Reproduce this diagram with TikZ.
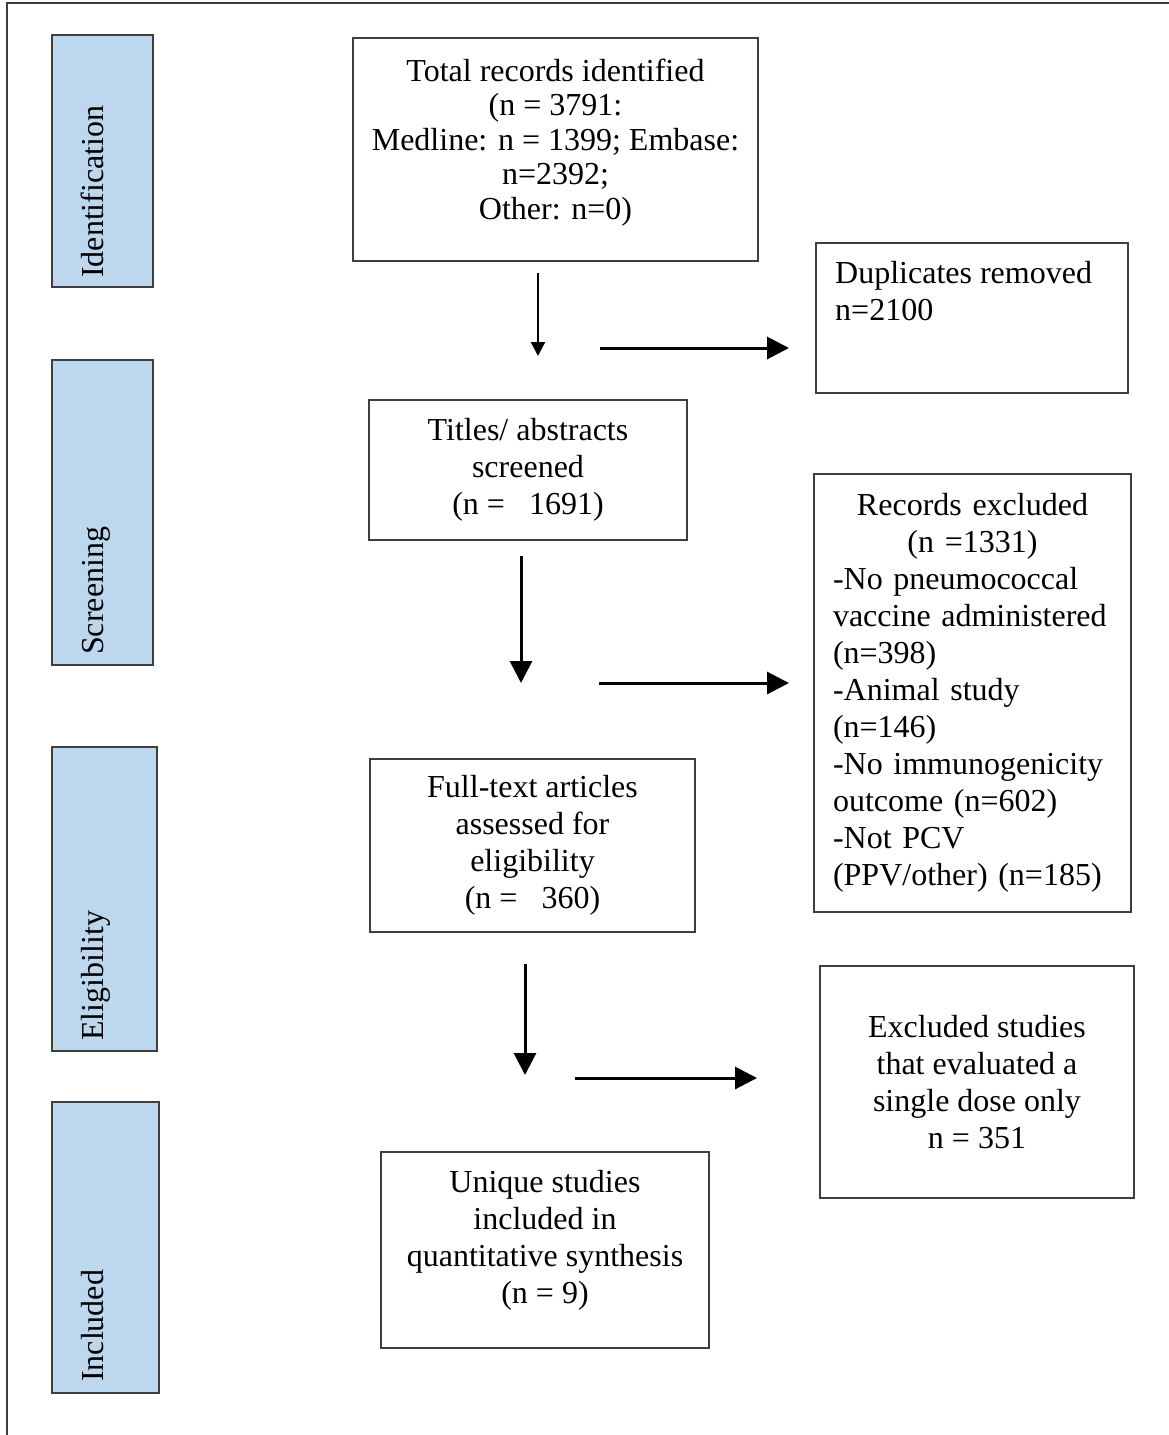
\documentclass[tikz,border=0pt]{standalone}
\usepackage{fontspec}
\setmainfont{Liberation Serif}
\usetikzlibrary{arrows.meta, positioning}
\definecolor{sideblue}{HTML}{BDD7EE}
\definecolor{edgegrey}{HTML}{3F3F3F}
\tikzset{
  every picture/.style={font=\fontsize{32}{37}\selectfont},
  flowbox/.style={draw=edgegrey, line width=1.5pt, align=center, inner sep=0pt},
  phase/.style={draw=edgegrey, fill=sideblue, line width=1.5pt, inner sep=0pt},
  phasetext/.style={rotate=90, anchor=base west, inner sep=0pt},
  arrow/.style={-{Triangle[length=22pt, width=22pt]}, line width=3pt},
  thinarrow/.style={-{Triangle[length=14pt, width=14pt]}, line width=2.2pt},
}

\begin{document}
\begin{tikzpicture}[x=1pt, y=-1pt]
  \useasboundingbox (0,0) rectangle (1168,1435);
  \draw[edgegrey, line width=2pt] (1190,3) -- (7,3) -- (7,1450);

  % phases on the left
  \node[phase, minimum width=101pt, minimum height=252pt] (ident) at (102.5,161) {};
  \node[phase, minimum width=101pt, minimum height=305pt] (screen) at (102.5,512.5) {};
  \node[phase, minimum width=105pt, minimum height=304pt] (elig) at (104.5,899) {};
  \node[phase, minimum width=107pt, minimum height=291pt] (incl) at (105.5,1247.5) {};
  \node[phasetext] (identtxt) at (103,278) {Identification};
  \node[phasetext] (screentxt) at (103,655) {Screening};
  \node[phasetext] (eligtxt) at (103,1041) {Eligibility};
  \node[phasetext] (incltxt) at (103,1382) {Included};

  % main column
  \node[flowbox, minimum width=405pt, minimum height=223pt, text depth=21pt, font=\fontsize{32}{34.5}\selectfont] (total) at (555.5,149.5)
    {Total records identified\\(n = 3791:\\Medline: n = 1399; Embase:\\n=2392;\\Other: n=0)};
  \node[flowbox, minimum width=318pt, minimum height=140pt] (titles) at (528,470)
    {Titles/ abstracts\\screened\\(n =~~~1691)};
  \node[flowbox, minimum width=325pt, minimum height=173pt] (fulltext) at (532.5,845.5)
    {Full-text articles\\assessed for\\eligibility\\(n =~~~360)};
  \node[flowbox, minimum width=328pt, minimum height=196pt, text depth=27pt] (unique) at (545,1250)
    {Unique studies\\included in\\quantitative synthesis\\(n = 9)};

  % exclusions on the right
  \node[flowbox, minimum width=312pt, minimum height=150pt] (dup) at (972,318) {};
  \node[anchor=north west, align=left, inner sep=0pt] (duptxt) at (835,261) {Duplicates removed\\n=2100};
  \node[flowbox, minimum width=317pt, minimum height=438pt, text width=279pt, align=left] (recexcl) at (972.5,693)
    {\centering Records excluded\\(n =1331)\par\raggedright
     -No pneumococcal\\vaccine administered\\(n=398)\\-Animal study\\(n=146)\\-No immunogenicity\\outcome (n=602)\\-Not PCV\\(PPV/other) (n=185)};
  \node[flowbox, minimum width=314pt, minimum height=232pt] (exclstud) at (977,1082)
    {Excluded studies\\that evaluated a\\single dose only\\n = 351};

  % arrows
  \coordinate (tip1) at (538,356);
  \coordinate (tip2) at (521,683);
  \coordinate (tip3) at (525,1075);
  \coordinate (out1) at (600,348);
  \coordinate (to1) at (789,348);
  \coordinate (out2) at (599,683);
  \coordinate (to2) at (789,683);
  \coordinate (out3) at (575,1078);
  \coordinate (to3) at (757,1078);
  \draw[thinarrow] ([yshift=-11pt]total.south -| tip1) -- (tip1);
  \draw[arrow] ([yshift=-15pt]titles.south -| tip2) -- (tip2);
  \draw[arrow] ([yshift=-31pt]fulltext.south -| tip3) -- (tip3);
  \draw[arrow] (out1) -- (to1);
  \draw[arrow] (out2) -- (to2);
  \draw[arrow] (out3) -- (to3);
\end{tikzpicture}
\end{document}
